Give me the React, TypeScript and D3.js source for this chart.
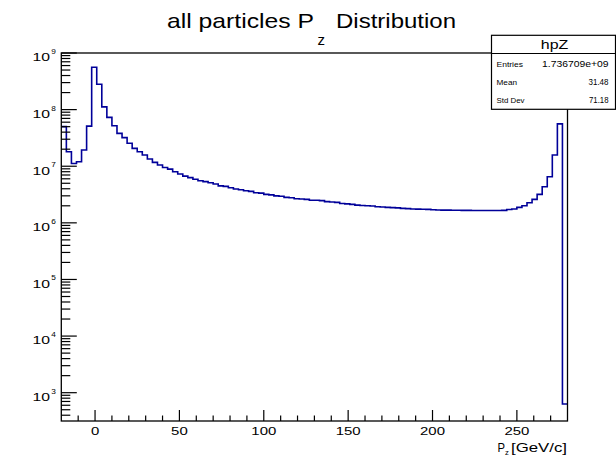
import React from "react";
import * as d3 from "d3";

// ---- data ----
const binLow = -20;
const binWidth = 3;
const counts: number[] = [
  5.0e7, 1.8e7, 1.12e7, 1.2e7, 1.93e7, 5.1e7, 5.6e8, 2.8e8, 1.12e8, 7.3e7,
  5.2e7, 3.8e7, 3.2e7, 2.54e7, 2.07e7, 1.8e7, 1.58e7, 1.34e7, 1.17e7, 1.05e7,
  9.5e6, 8.9e6, 8.0e6, 7.3e6, 6.7e6, 6.3e6, 5.9e6, 5.55e6, 5.35e6, 5.1e6,
  4.85e6, 4.5e6, 4.4e6, 4.17e6, 3.95e6, 3.85e6, 3.7e6, 3.6e6, 3.4e6, 3.35e6,
  3.18e6, 3.12e6, 3.0e6, 2.95e6, 2.82e6, 2.78e6, 2.67e6, 2.64e6, 2.6e6, 2.5e6,
  2.5e6, 2.47e6, 2.37e6, 2.33e6, 2.3e6, 2.2e6, 2.16e6, 2.12e6, 2.06e6, 2.03e6,
  2.0e6, 1.98e6, 1.93e6, 1.9e6, 1.88e6, 1.86e6, 1.84e6, 1.8e6, 1.78e6, 1.76e6,
  1.75e6, 1.74e6, 1.73e6, 1.7e6, 1.69e6, 1.68e6, 1.68e6, 1.67e6, 1.67e6, 1.66e6,
  1.66e6, 1.65e6, 1.65e6, 1.65e6, 1.65e6, 1.65e6, 1.65e6, 1.66e6, 1.72e6, 1.76e6,
  1.88e6, 2.0e6, 2.27e6, 2.6e6, 3.18e6, 4.35e6, 6.5e6, 1.58e7, 5.6e7, 630,
];
const xMajorTicks = [0, 50, 100, 150, 200, 250];
const xMinorTicks = [-10, 10, 20, 30, 40, 60, 70, 80, 90, 110, 120, 130, 140, 160, 170, 180, 190, 210, 220, 230, 240, 260, 270];
const yDecades = [3, 4, 5, 6, 7, 8, 9];
const yMinorMultipliers = [2, 3, 4, 5, 6, 7, 8, 9];
const statsTitle = "hpZ";
const statsLabels = ["Entries", "Mean", "Std Dev"];
const statsValues = ["1.736709e+09", "31.48", "71.18"];

// ---- layout ----
const W = 616;
const H = 458;
const fL = 61.3, fR = 567.5, fT = 53, fB = 421;
const FONT = "'Liberation Sans', Arial, Helvetica, sans-serif";

export default function App() {
  const xMax = binLow + binWidth * counts.length;
  const x = d3.scaleLinear().domain([binLow, xMax]).range([fL, fR]);
  const y = d3.scaleLog().domain([Math.pow(10, 2.5), 1e9]).range([fB, fT]);

  const pts: [number, number][] = [];
  counts.forEach((c, i) => {
    const a = binLow + i * binWidth;
    pts.push([a, c]);
    pts.push([a + binWidth, c]);
  });
  const line = d3.line<[number, number]>().x((d) => x(d[0])).y((d) => y(d[1]));

  const yMinor: number[] = [];
  for (let d = 2; d <= 8; d++) {
    yMinorMultipliers.forEach((m) => {
      const v = m * Math.pow(10, d);
      if (v >= y.domain()[0] && v <= y.domain()[1]) yMinor.push(v);
    });
  }

  const digitW = 8.3;
  const rowY = [67.3, 85, 103];
  const valueW = [66.5, 20, 19.5];
  const labelW = [26.5, 20.5, 28];

  return (
    <div style={{ position: "fixed", left: 0, top: 0 }}>
      <svg width={W} height={H} style={{ display: "block", background: "#fff" }} fontFamily={FONT}>
        <rect x={0} y={0} width={W} height={H} fill="#fff" />
        {/* title */}
        <text x={167} y={28.3} fontSize={21} textLength={147} lengthAdjust="spacingAndGlyphs">all particles P</text>
        <text x={317.5} y={45} fontSize={14} textLength={7.5} lengthAdjust="spacingAndGlyphs">z</text>
        <text x={336} y={28.3} fontSize={21} textLength={120} lengthAdjust="spacingAndGlyphs">Distribution</text>

        {/* histogram */}
        <path d={line(pts) || ""} fill="none" stroke="#000099" strokeWidth={1.6} />

        {/* frame */}
        <rect x={fL} y={fT} width={fR - fL} height={fB - fT} fill="none" stroke="#000" strokeWidth={1.3} />

        {/* y ticks */}
        {yDecades.map((d) => (
          <line key={"ym" + d} x1={fL} x2={fL + 15.5} y1={y(Math.pow(10, d))} y2={y(Math.pow(10, d))} stroke="#000" strokeWidth={1.2} />
        ))}
        {yMinor.map((v, i) => (
          <line key={"yn" + i} x1={fL} x2={fL + 9} y1={y(v)} y2={y(v)} stroke="#000" strokeWidth={1.2} />
        ))}
        {yDecades.map((d) => {
          const ty = y(Math.pow(10, d));
          return (
            <g key={"yl" + d}>
              <text x={32.5} y={ty + 8.3} fontSize={11} textLength={17.5} lengthAdjust="spacingAndGlyphs" fill="#000">10</text>
              <text x={51.3} y={ty + 1} fontSize={7.5} textLength={4.6} lengthAdjust="spacingAndGlyphs" fill="#000">{d}</text>
            </g>
          );
        })}

        {/* x ticks */}
        {xMajorTicks.map((t) => (
          <line key={"xm" + t} x1={x(t)} x2={x(t)} y1={fB} y2={fB - 11} stroke="#000" strokeWidth={1.2} />
        ))}
        {xMinorTicks.map((t) => (
          <line key={"xn" + t} x1={x(t)} x2={x(t)} y1={fB} y2={fB - 5.5} stroke="#000" strokeWidth={1.2} />
        ))}
        {xMajorTicks.map((t) => {
          const s = String(t);
          const w = s.length * digitW;
          return (
            <text key={"xl" + t} x={x(t) - w / 2} y={435} fontSize={11.5} textLength={w} lengthAdjust="spacingAndGlyphs" fill="#000">{s}</text>
          );
        })}

        {/* x axis title */}
        <text x={497.5} y={451.5} fontSize={13} textLength={7.5} lengthAdjust="spacingAndGlyphs">P</text>
        <text x={505} y={454.5} fontSize={7} textLength={3.8} lengthAdjust="spacingAndGlyphs">z</text>
        <text x={511} y={451.5} fontSize={13} textLength={56} lengthAdjust="spacingAndGlyphs">[GeV/c]</text>

        {/* stats box */}
        <rect x={491.5} y={35.3} width={124} height={74} fill="#fff" stroke="#000" strokeWidth={1.2} />
        <line x1={491.5} x2={615.5} y1={53.5} y2={53.5} stroke="#000" strokeWidth={1.2} />
        <text x={540.8} y={48.5} fontSize={12.5} textLength={27.5} lengthAdjust="spacingAndGlyphs">{statsTitle}</text>
        {statsLabels.map((l, i) => (
          <text key={"sl" + i} x={496.5} y={rowY[i]} fontSize={8} textLength={labelW[i]} lengthAdjust="spacingAndGlyphs">{l}</text>
        ))}
        {statsValues.map((v, i) => (
          <text key={"sv" + i} x={608.5 - valueW[i]} y={rowY[i]} fontSize={8.3} textLength={valueW[i]} lengthAdjust="spacingAndGlyphs">{v}</text>
        ))}
      </svg>
    </div>
  );
}
